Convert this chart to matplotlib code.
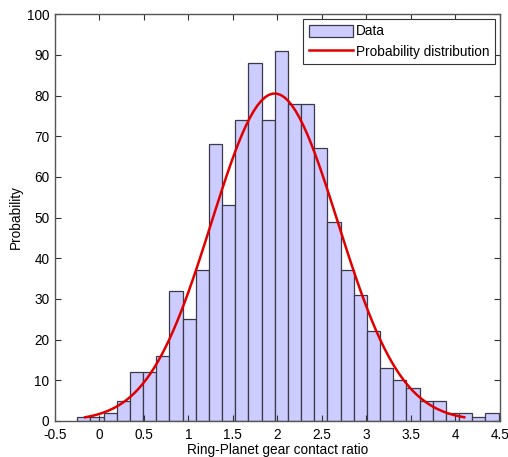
import numpy as np
import matplotlib
matplotlib.use('Agg')
import matplotlib.pyplot as plt
from matplotlib.ticker import FuncFormatter, MultipleLocator

# histogram counts, 32 equal bins
counts = [1, 1, 2, 5, 12, 12, 16, 32, 25, 37, 68, 53, 74, 88, 74, 91,
          78, 78, 67, 49, 37, 31, 22, 13, 10, 8, 5, 5, 2, 2, 1, 2]
data_min = -0.249
data_max = 4.485

# fitted normal curve (histfit style, spans mean +/- 3 sigma)
fit_mu = 1.97
fit_sigma = 0.71
fit_peak = 80.5

plt.rcParams['font.family'] = ['Liberation Sans', 'DejaVu Sans']
plt.rcParams['font.size'] = 9.8

edges = np.linspace(data_min, data_max, len(counts) + 1)

fig = plt.figure(figsize=(5.08, 4.57), dpi=100)
ax = fig.add_axes([0.108, 0.079, 0.876, 0.890])

bars = ax.bar(edges[:-1], counts, width=np.diff(edges), align='edge',
              facecolor='#ccccff', edgecolor='#3a3a4a', linewidth=0.9)

x = np.linspace(fit_mu - 3 * fit_sigma, fit_mu + 3 * fit_sigma, 100)
y = fit_peak * np.exp(-0.5 * ((x - fit_mu) / fit_sigma) ** 2)
line, = ax.plot(x, y, color='#e00000', linewidth=1.8)

ax.set_xlim(-0.5, 4.5)
ax.set_ylim(0, 100)
ax.xaxis.set_major_locator(MultipleLocator(0.5))
ax.yaxis.set_major_locator(MultipleLocator(10))
ax.xaxis.set_major_formatter(FuncFormatter(lambda v, p: '%g' % v))
ax.yaxis.set_major_formatter(FuncFormatter(lambda v, p: '%g' % v))
ax.tick_params(direction='in', length=4, width=0.8, top=True, right=True,
               colors='#333333', labelcolor='black')
ax.tick_params(axis='x', pad=5)
ax.tick_params(axis='y', pad=4)
for s in ax.spines.values():
    s.set_color('#555555')
    s.set_linewidth(1.0)

ax.set_xlabel('Ring-Planet gear contact ratio', labelpad=1)
ax.set_ylabel('Probability', labelpad=3)

leg = ax.legend([bars, line], ['Data', 'Probability distribution'],
                loc='upper right', fancybox=False, framealpha=1, edgecolor='#333333',
                borderaxespad=0.35, handlelength=3.3, handleheight=0.95,
                handletextpad=0.2, borderpad=0.4, labelspacing=0.45)
leg.get_frame().set_linewidth(0.8)

fig.savefig('out.png', dpi=100)
